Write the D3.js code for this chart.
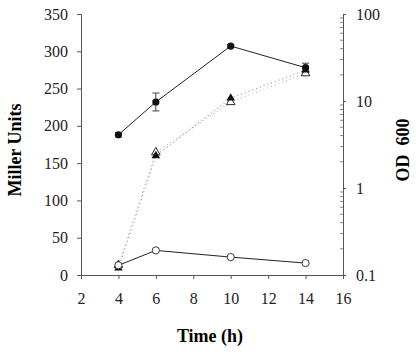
<!DOCTYPE html>
<html>
<head>
<meta charset="utf-8">
<script src="https://cdn.jsdelivr.net/npm/d3@7"></script>
<style>
body{margin:0;background:#fff}
text{font-family:"Liberation Serif","Times New Roman",serif}
</style>
</head>
<body>
<div id="Canvas"></div>
<script>
// data
let times = [4, 6, 10, 14]
let miller_filled = [188, 232, 307, 278]
let miller_filled_err = [3, 12, 2, 6]
let miller_open = [13, 33, 24, 16]
let od_filled = [0.12, 2.35, 10.8, 22.7]
let od_open = [0.13, 2.57, 9.7, 20.8]
let xTicks = [2, 4, 6, 8, 10, 12, 14, 16]
let yTicks = [0, 50, 100, 150, 200, 250, 300, 350]
let odTicks = [0.1, 1, 10, 100]

let svg = d3.select("#Canvas")
    .append("svg")
    .attr('width', 416)
    .attr('height', 352)

let xScale = d3.scaleLinear().domain([2, 16]).range([81, 343])
let yScale = d3.scaleLinear().domain([0, 350]).range([275, 14])
let odScale = d3.scaleLog().domain([0.1, 100]).range([275, 14])

// axes
let xAxis = d3.axisBottom(xScale).tickValues(xTicks).tickSize(4).tickPadding(14).tickFormat(d3.format("d"))
let yAxis = d3.axisLeft(yScale).tickValues(yTicks).tickSize(4).tickPadding(9)
let odAxis = d3.axisRight(odScale).tickValues(odTicks).tickSize(3).tickPadding(10).tickFormat(d => d)

function style(g){
    g.attr("font-family", "Liberation Serif").attr("font-size", 16)
    g.select(".domain").attr("stroke", "#555")
    g.selectAll(".tick line").attr("stroke", "#555")
    g.selectAll(".tick text").attr("fill", "#222")
}
svg.append("g").attr("transform", "translate(0,275)").call(xAxis).call(style)
svg.append("g").attr("transform", "translate(81,0)").call(yAxis).call(style)
svg.append("g").attr("transform", "translate(343,0)").call(odAxis).call(style)

// minor log ticks on right axis
let minor = []
for (let dec of [0.1, 1, 10]) {
    for (let k = 2; k <= 9; k++) minor.push(dec * k)
}
svg.selectAll(".minor")
    .data(minor)
    .enter()
    .append("line")
    .attr("x1", 340).attr("x2", 343)
    .attr("y1", d => odScale(d)).attr("y2", d => odScale(d))
    .attr("stroke", "#888")

// axis titles
svg.append("text")
    .attr("transform", "translate(21,150) rotate(-90)")
    .attr("text-anchor", "middle")
    .attr("font-size", 18).attr("font-weight", "bold")
    .text("Miller Units")
svg.append("text")
    .attr("transform", "translate(409,150) rotate(-90)")
    .attr("text-anchor", "middle")
    .attr("font-size", 18).attr("font-weight", "bold")
    .attr("xml:space", "preserve")
    .text("OD  600")
svg.append("text")
    .attr("x", 210).attr("y", 342)
    .attr("text-anchor", "middle")
    .attr("font-size", 18).attr("font-weight", "bold")
    .text("Time (h)")

// dotted OD lines
let odLine = (arr) => d3.line()
    .x((d, i) => xScale(times[i]))
    .y(d => odScale(d))(arr)
svg.append("path").attr("d", odLine(od_filled))
    .attr("fill", "none").attr("stroke", "#999").attr("stroke-width", 1.2)
    .attr("stroke-dasharray", "1,3")
svg.append("path").attr("d", odLine(od_open))
    .attr("fill", "none").attr("stroke", "#bbb").attr("stroke-width", 1.2)
    .attr("stroke-dasharray", "1,3")

// solid Miller lines
let mLine = (arr) => d3.line()
    .x((d, i) => xScale(times[i]))
    .y(d => yScale(d))(arr)
svg.append("path").attr("d", mLine(miller_filled))
    .attr("fill", "none").attr("stroke", "#222").attr("stroke-width", 1)
svg.append("path").attr("d", mLine(miller_open))
    .attr("fill", "none").attr("stroke", "#222").attr("stroke-width", 1)

// error bars
miller_filled.forEach((d, i) => {
    let x = xScale(times[i])
    let y1 = yScale(d - miller_filled_err[i])
    let y2 = yScale(d + miller_filled_err[i])
    svg.append("line").attr("x1", x).attr("x2", x).attr("y1", y1).attr("y2", y2).attr("stroke", "#444")
    svg.append("line").attr("x1", x - 3.5).attr("x2", x + 3.5).attr("y1", y1).attr("y2", y1).attr("stroke", "#444")
    svg.append("line").attr("x1", x - 3.5).attr("x2", x + 3.5).attr("y1", y2).attr("y2", y2).attr("stroke", "#444")
})

// triangles
let tri = d3.symbol().type(d3.symbolTriangle).size(32)
svg.selectAll(".triOpen")
    .data(od_open)
    .enter()
    .append("path")
    .attr("d", tri)
    .attr("transform", (d, i) => `translate(${xScale(times[i])},${odScale(d)})`)
    .attr("fill", "#fff").attr("stroke", "#111").attr("stroke-width", 0.9)
svg.selectAll(".triFilled")
    .data(od_filled)
    .enter()
    .append("path")
    .attr("d", tri)
    .attr("transform", (d, i) => `translate(${xScale(times[i])},${odScale(d)})`)
    .attr("fill", "#111")

// circles
svg.selectAll(".cOpen")
    .data(miller_open)
    .enter()
    .append("circle")
    .attr("cx", (d, i) => xScale(times[i]))
    .attr("cy", d => yScale(d))
    .attr("r", 3.6)
    .attr("fill", "#fff").attr("stroke", "#222").attr("stroke-width", 0.9)
svg.selectAll(".cFilled")
    .data(miller_filled)
    .enter()
    .append("circle")
    .attr("cx", (d, i) => xScale(times[i]))
    .attr("cy", d => yScale(d))
    .attr("r", 3.6)
    .attr("fill", "#111")
</script>
</body>
</html>
